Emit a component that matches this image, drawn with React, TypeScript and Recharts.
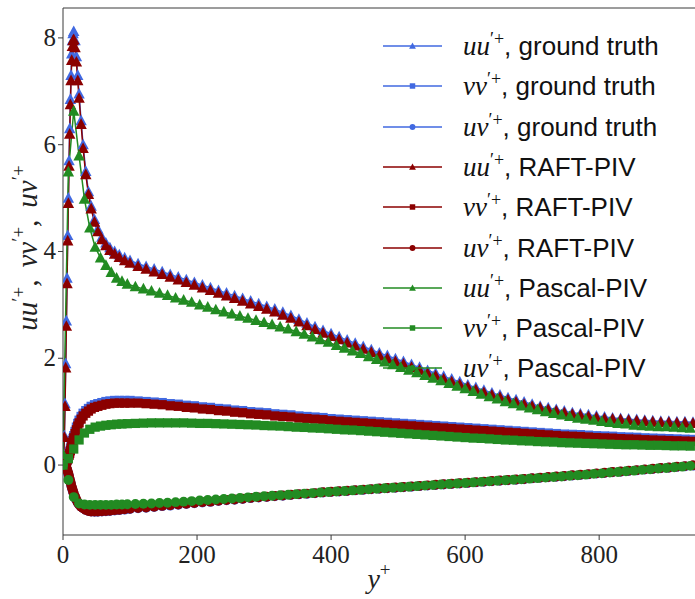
import { LineChart, Line, XAxis, YAxis, Legend, ReferenceLine } from "recharts";

// y+ grid of the ground truth and RAFT-PIV profiles
const yPlusRef = [
  0, 1, 2, 3, 4, 5, 6, 7, 8, 9,
  10, 11, 12, 13, 14, 15, 16, 18, 20, 22,
  24, 27, 30, 34, 38, 42, 47, 52, 58, 64,
  70, 77, 84, 92, 100,
  112, 124, 136, 148, 160, 172, 184, 196, 208, 220,
  232, 244, 256, 268, 280, 292, 304, 316, 328, 340,
  352, 364, 376, 388, 400, 412, 424, 436, 448, 460,
  472, 484, 496, 508, 520, 532, 544, 556, 568, 580,
  592, 604, 616, 628, 640, 652, 664, 676, 688, 700,
  712, 724, 736, 748, 760, 772, 784, 796, 808, 820,
  832, 844, 856, 868, 880, 892, 904, 916, 928, 940,
];

const uuTruth = [
  0, 0.15, 0.55, 1.15, 1.9, 2.7, 3.5, 4.3, 5.0, 5.7,
  6.3, 6.85, 7.3, 7.7, 7.95, 8.08, 8.12, 7.95, 7.65, 7.3,
  6.95, 6.45, 6.0, 5.5, 5.12, 4.85, 4.6, 4.42, 4.27, 4.16,
  4.07, 4.0, 3.94, 3.88, 3.83,
  3.77, 3.72, 3.67, 3.62, 3.57, 3.52, 3.47, 3.42, 3.37, 3.32,
  3.27, 3.22, 3.17, 3.12, 3.07, 3.02, 2.97, 2.92, 2.86, 2.8,
  2.73, 2.66, 2.59, 2.52, 2.46, 2.4, 2.34, 2.28, 2.22, 2.16,
  2.1, 2.05, 1.99, 1.94, 1.88, 1.83, 1.77, 1.72, 1.66, 1.61,
  1.56, 1.5, 1.45, 1.4, 1.35, 1.31, 1.26, 1.22, 1.18, 1.14,
  1.1, 1.07, 1.04, 1.01, 0.98, 0.96, 0.94, 0.92, 0.9, 0.88,
  0.87, 0.86, 0.85, 0.84, 0.83, 0.82, 0.82, 0.81, 0.81, 0.8,
];

const vvTruth = [
  0, 0, 0.01, 0.02, 0.04, 0.06, 0.09, 0.12, 0.16, 0.2,
  0.25, 0.3, 0.35, 0.4, 0.45, 0.5, 0.55, 0.63, 0.71, 0.78,
  0.84, 0.91, 0.97, 1.02, 1.06, 1.1, 1.13, 1.15, 1.17, 1.19,
  1.2, 1.21, 1.21, 1.21, 1.21,
  1.2, 1.19, 1.18, 1.17, 1.15, 1.14, 1.12, 1.11, 1.09, 1.08,
  1.06, 1.05, 1.03, 1.02, 1.0, 0.99, 0.98, 0.96, 0.95, 0.94,
  0.92, 0.91, 0.9, 0.89, 0.87, 0.86, 0.85, 0.84, 0.83, 0.82,
  0.81, 0.8, 0.79, 0.78, 0.77, 0.76, 0.75, 0.74, 0.73, 0.72,
  0.71, 0.7, 0.69, 0.68, 0.67, 0.66, 0.65, 0.64, 0.63, 0.62,
  0.61, 0.6, 0.59, 0.58, 0.575, 0.57, 0.56, 0.55, 0.545, 0.54,
  0.53, 0.525, 0.52, 0.51, 0.505, 0.5, 0.495, 0.49, 0.485, 0.48,
];

const uvTruth = [
  0, 0, -0.01, -0.02, -0.04, -0.06, -0.09, -0.13, -0.17, -0.22,
  -0.27, -0.32, -0.37, -0.42, -0.46, -0.5, -0.54, -0.6, -0.66, -0.7,
  -0.74, -0.78, -0.81, -0.84, -0.86, -0.87, -0.875, -0.875, -0.87, -0.865,
  -0.86, -0.85, -0.845, -0.835, -0.825,
  -0.81, -0.8, -0.785, -0.77, -0.76, -0.745, -0.73, -0.715, -0.7, -0.69,
  -0.675, -0.66, -0.65, -0.635, -0.62, -0.61, -0.6, -0.585, -0.575, -0.56,
  -0.55, -0.54, -0.53, -0.515, -0.505, -0.495, -0.485, -0.475, -0.465, -0.455,
  -0.445, -0.435, -0.425, -0.415, -0.405, -0.395, -0.385, -0.375, -0.365, -0.355,
  -0.345, -0.335, -0.325, -0.315, -0.305, -0.295, -0.285, -0.275, -0.265, -0.25,
  -0.24, -0.23, -0.22, -0.21, -0.195, -0.185, -0.175, -0.16, -0.15, -0.135,
  -0.125, -0.11, -0.1, -0.085, -0.075, -0.06, -0.05, -0.035, -0.025, -0.01,
];

const uuRaft = [
  0, 0.14, 0.52, 1.1, 1.82, 2.6, 3.4, 4.2, 4.9, 5.6,
  6.2, 6.75, 7.2, 7.58, 7.84, 7.95, 7.97, 7.82, 7.55, 7.2,
  6.87, 6.38, 5.93, 5.44, 5.07, 4.8, 4.55, 4.37, 4.22, 4.11,
  4.02, 3.95, 3.89, 3.83, 3.78,
  3.72, 3.67, 3.62, 3.57, 3.52, 3.47, 3.42, 3.37, 3.32, 3.27,
  3.22, 3.17, 3.12, 3.07, 3.02, 2.97, 2.92, 2.87, 2.81, 2.75,
  2.68, 2.61, 2.54, 2.47, 2.41, 2.35, 2.29, 2.23, 2.17, 2.11,
  2.05, 2.0, 1.94, 1.89, 1.83, 1.78, 1.72, 1.67, 1.61, 1.56,
  1.51, 1.46, 1.41, 1.36, 1.31, 1.27, 1.22, 1.18, 1.14, 1.1,
  1.07, 1.04, 1.01, 0.98, 0.95, 0.93, 0.91, 0.89, 0.87, 0.86,
  0.85, 0.84, 0.83, 0.82, 0.81, 0.8, 0.8, 0.79, 0.79, 0.78,
];

const vvRaft = [
  0, 0, 0.01, 0.02, 0.03, 0.05, 0.08, 0.11, 0.14, 0.18,
  0.22, 0.27, 0.32, 0.37, 0.42, 0.46, 0.51, 0.59, 0.66, 0.73,
  0.79, 0.86, 0.92, 0.97, 1.01, 1.05, 1.08, 1.1, 1.12, 1.14,
  1.15, 1.16, 1.16, 1.16, 1.16,
  1.16, 1.15, 1.14, 1.13, 1.11, 1.1, 1.08, 1.07, 1.05, 1.04,
  1.02, 1.01, 0.99, 0.98, 0.96, 0.95, 0.94, 0.92, 0.91, 0.9,
  0.88, 0.87, 0.86, 0.85, 0.83, 0.82, 0.81, 0.8, 0.79, 0.78,
  0.77, 0.76, 0.75, 0.745, 0.735, 0.725, 0.715, 0.705, 0.695, 0.685,
  0.675, 0.665, 0.655, 0.645, 0.635, 0.625, 0.615, 0.605, 0.595, 0.585,
  0.575, 0.565, 0.555, 0.545, 0.54, 0.535, 0.525, 0.515, 0.51, 0.505,
  0.495, 0.49, 0.485, 0.475, 0.47, 0.465, 0.46, 0.455, 0.45, 0.445,
];

const uvRaft = [
  0, 0, -0.01, -0.02, -0.03, -0.05, -0.08, -0.12, -0.16, -0.21,
  -0.26, -0.31, -0.36, -0.41, -0.45, -0.49, -0.53, -0.59, -0.65, -0.7,
  -0.74, -0.78, -0.81, -0.84, -0.86, -0.87, -0.87, -0.87, -0.865, -0.86,
  -0.855, -0.845, -0.84, -0.83, -0.82,
  -0.805, -0.795, -0.78, -0.765, -0.755, -0.74, -0.725, -0.71, -0.695, -0.685,
  -0.67, -0.655, -0.645, -0.63, -0.615, -0.605, -0.595, -0.58, -0.57, -0.555,
  -0.545, -0.535, -0.525, -0.51, -0.5, -0.49, -0.48, -0.47, -0.46, -0.45,
  -0.44, -0.43, -0.42, -0.41, -0.4, -0.39, -0.38, -0.37, -0.36, -0.35,
  -0.34, -0.33, -0.32, -0.31, -0.3, -0.29, -0.28, -0.27, -0.26, -0.245,
  -0.235, -0.225, -0.215, -0.205, -0.19, -0.18, -0.17, -0.155, -0.145, -0.13,
  -0.12, -0.105, -0.095, -0.08, -0.07, -0.055, -0.045, -0.03, -0.02, -0.005,
];

// Pascal-PIV sits on a coarser, uniform grid
const yPlusPascal = [
  0, 8, 16, 24, 32, 40, 48, 56, 64, 72,
  80, 88, 96,
  108, 120, 132, 144, 156, 168, 180, 192, 204, 216,
  228, 240, 252, 264, 276, 288, 300, 312, 324, 336,
  348, 360, 372, 384, 396, 408, 420, 432, 444, 456,
  468, 480, 492, 504, 516, 528, 540, 552, 564, 576,
  588, 600, 612, 624, 636, 648, 660, 672, 684, 696,
  708, 720, 732, 744, 756, 768, 780, 792, 804, 816,
  828, 840, 852, 864, 876, 888, 900, 912, 924, 936,
];

const uuPascal = [
  0.2, 5.49, 6.63, 5.79, 4.98, 4.44, 4.08, 3.88, 3.74, 3.61,
  3.5, 3.44, 3.39,
  3.34, 3.3, 3.26, 3.22, 3.18, 3.13, 3.09, 3.05, 3.0, 2.96,
  2.91, 2.87, 2.83, 2.79, 2.75, 2.71, 2.67, 2.63, 2.59, 2.55,
  2.5, 2.45, 2.4, 2.35, 2.3, 2.24, 2.19, 2.14, 2.09, 2.03,
  1.98, 1.93, 1.88, 1.83, 1.78, 1.73, 1.68, 1.63, 1.58, 1.53,
  1.48, 1.43, 1.38, 1.33, 1.28, 1.24, 1.19, 1.15, 1.11, 1.07,
  1.04, 1.0, 0.97, 0.94, 0.91, 0.88, 0.86, 0.84, 0.82, 0.8,
  0.78, 0.77, 0.75, 0.74, 0.73, 0.72, 0.72, 0.71, 0.7, 0.69,
];

const vvPascal = [
  0, 0.12, 0.3, 0.47, 0.6, 0.67, 0.71, 0.73, 0.745, 0.755,
  0.765, 0.77, 0.775,
  0.78, 0.785, 0.79, 0.79, 0.79, 0.79, 0.79, 0.785, 0.78, 0.78,
  0.775, 0.77, 0.765, 0.76, 0.755, 0.75, 0.74, 0.735, 0.73, 0.72,
  0.71, 0.705, 0.695, 0.69, 0.68, 0.67, 0.66, 0.655, 0.645, 0.635,
  0.625, 0.615, 0.605, 0.595, 0.585, 0.575, 0.565, 0.555, 0.545, 0.535,
  0.525, 0.515, 0.505, 0.5, 0.49, 0.48, 0.47, 0.465, 0.455, 0.45,
  0.44, 0.435, 0.43, 0.42, 0.415, 0.41, 0.405, 0.4, 0.395, 0.39,
  0.385, 0.38, 0.38, 0.375, 0.37, 0.37, 0.365, 0.36, 0.36, 0.355,
];

const uvPascal = [
  0, -0.28, -0.6, -0.72, -0.74, -0.745, -0.745, -0.745, -0.745, -0.745,
  -0.74, -0.74, -0.735,
  -0.73, -0.725, -0.72, -0.71, -0.705, -0.695, -0.685, -0.675, -0.665, -0.655,
  -0.645, -0.635, -0.625, -0.615, -0.605, -0.595, -0.585, -0.575, -0.565, -0.555,
  -0.545, -0.535, -0.525, -0.515, -0.505, -0.495, -0.485, -0.475, -0.465, -0.455,
  -0.445, -0.435, -0.425, -0.415, -0.405, -0.395, -0.385, -0.375, -0.365, -0.355,
  -0.345, -0.335, -0.325, -0.315, -0.305, -0.295, -0.285, -0.275, -0.265, -0.255,
  -0.245, -0.235, -0.225, -0.213, -0.2, -0.19, -0.18, -0.165, -0.155, -0.14,
  -0.13, -0.115, -0.105, -0.09, -0.08, -0.065, -0.055, -0.04, -0.03, -0.015,
];

const xTicks = [0, 200, 400, 600, 800];
const yTicks = [0, 2, 4, 6, 8];
const X_MAX = 943;
const Y_MIN = -1.31;
const Y_MAX = 8.56;

const BLUE = "#4169e1";
const RED = "#8b0000";
const GREEN = "#228b22";
const AXIS = "#3a3a3a";
const SERIF = "'Liberation Serif', 'DejaVu Serif', serif";
const SANS = "'Liberation Sans', 'DejaVu Sans', sans-serif";
const MARKER = 11;
const ROW = 40.3;

type Shape = "triangle" | "square" | "circle";

interface SeriesDef {
  id: string;
  xs: number[];
  ys: number[];
  color: string;
  shape: Shape;
  sym: string;
  source: string;
}

const series: SeriesDef[] = [
  { id: "uuTruth", xs: yPlusRef, ys: uuTruth, color: BLUE, shape: "triangle", sym: "uu", source: "ground truth" },
  { id: "vvTruth", xs: yPlusRef, ys: vvTruth, color: BLUE, shape: "square", sym: "vv", source: "ground truth" },
  { id: "uvTruth", xs: yPlusRef, ys: uvTruth, color: BLUE, shape: "circle", sym: "uv", source: "ground truth" },
  { id: "uuRaft", xs: yPlusRef, ys: uuRaft, color: RED, shape: "triangle", sym: "uu", source: "RAFT-PIV" },
  { id: "vvRaft", xs: yPlusRef, ys: vvRaft, color: RED, shape: "square", sym: "vv", source: "RAFT-PIV" },
  { id: "uvRaft", xs: yPlusRef, ys: uvRaft, color: RED, shape: "circle", sym: "uv", source: "RAFT-PIV" },
  { id: "uuPascal", xs: yPlusPascal, ys: uuPascal, color: GREEN, shape: "triangle", sym: "uu", source: "Pascal-PIV" },
  { id: "vvPascal", xs: yPlusPascal, ys: vvPascal, color: GREEN, shape: "square", sym: "vv", source: "Pascal-PIV" },
  { id: "uvPascal", xs: yPlusPascal, ys: uvPascal, color: GREEN, shape: "circle", sym: "uv", source: "Pascal-PIV" },
];

function toPoints(xs: number[], ys: number[]) {
  return xs.map((x, i) => ({ x, y: ys[i] }));
}

function markerShape(shape: Shape, cx: number, cy: number, s: number, color: string, key?: string) {
  if (shape === "triangle") {
    const pts = `${cx},${cy - s * 0.55} ${cx - s * 0.52},${cy + s * 0.42} ${cx + s * 0.52},${cy + s * 0.42}`;
    return <polygon key={key} points={pts} fill={color} />;
  }
  if (shape === "square") {
    const h = s * 0.42;
    return <rect key={key} x={cx - h} y={cy - h} width={h * 2} height={h * 2} fill={color} />;
  }
  return <circle key={key} cx={cx} cy={cy} r={s * 0.45} fill={color} />;
}

const makeDot = (shape: Shape, color: string) => (props: any) => {
  const { cx, cy, index } = props;
  const key = `d-${index}`;
  if (cx == null || cy == null || isNaN(cx) || isNaN(cy)) return <g key={key} />;
  return markerShape(shape, cx, cy, MARKER, color, key);
};

const XTick = (props: any) => {
  const { x, y, payload } = props;
  return (
    <text x={x} y={y + 21} textAnchor="middle" fontFamily={SERIF} fontSize={25} fill="#222">
      {payload.value}
    </text>
  );
};

const YTick = (props: any) => {
  const { x, y, payload } = props;
  return (
    <text x={x} y={y + 8} textAnchor="end" fontFamily={SERIF} fontSize={25} fill="#222">
      {payload.value}
    </text>
  );
};

const XTitle = (props: any) => {
  const vb = props.viewBox;
  const cx = vb.x + vb.width / 2;
  return (
    <text x={cx} y={vb.y + 53} textAnchor="middle" fontFamily={SERIF} fontSize={28} fill="#222">
      <tspan fontStyle="italic">y</tspan>
      <tspan dy={-12} fontSize={19}>+</tspan>
    </text>
  );
};

const YTitle = (props: any) => {
  const vb = props.viewBox;
  const x = 37;
  const y = vb.y + 240;
  return (
    <text
      x={x}
      y={y}
      transform={`rotate(-90 ${x} ${y})`}
      textAnchor="middle"
      fontFamily={SERIF}
      fontSize={29}
      fill="#222"
    >
      <tspan fontStyle="italic">uu</tspan>
      <tspan dy={-12} fontSize={19}>′+</tspan>
      <tspan dy={12}>,</tspan>
      <tspan dx={12} fontStyle="italic">vv</tspan>
      <tspan dy={-12} fontSize={19}>′+</tspan>
      <tspan dy={12}>,</tspan>
      <tspan dx={12} fontStyle="italic">uv</tspan>
      <tspan dy={-12} fontSize={19}>′+</tspan>
    </text>
  );
};

const LegendBox = () => (
  <div style={{ position: "relative", width: 312, height: ROW * series.length }}>
    {series.map((s, i) => (
      <div key={s.id} style={{ position: "absolute", left: 0, top: i * ROW, width: 312, height: ROW }}>
        <svg width={59} height={16} style={{ position: "absolute", left: 0, top: 12 }}>
          <line x1={0} x2={59} y1={8} y2={8} stroke={s.color} strokeWidth={1.5} />
          {markerShape(s.shape, 29.5, 8, 6.5, s.color)}
        </svg>
        <span
          style={{
            position: "absolute",
            left: 80,
            top: 5,
            fontSize: 26,
            lineHeight: "30px",
            color: "#111",
            whiteSpace: "nowrap",
          }}
        >
          <span style={{ fontFamily: SERIF, fontStyle: "italic", fontSize: 27 }}>{s.sym}</span>
          <span style={{ fontFamily: SERIF, fontSize: 18, position: "relative", top: -10 }}>′+</span>
          <span style={{ fontFamily: SANS }}>, {s.source}</span>
        </span>
      </div>
    ))}
  </div>
);

export default function App() {
  return (
    <div
      style={{
        position: "absolute",
        left: 0,
        top: 0,
        width: 695,
        height: 599,
        background: "#fff",
        overflow: "hidden",
      }}
    >
      <LineChart width={695} height={599} margin={{ top: 8, right: 0, bottom: 0, left: 0 }}>
        <XAxis
          type="number"
          dataKey="x"
          domain={[0, X_MAX]}
          ticks={xTicks}
          allowDataOverflow
          height={64}
          stroke={AXIS}
          tickSize={5}
          tick={<XTick />}
          label={{ content: <XTitle /> }}
        />
        <YAxis
          type="number"
          dataKey="y"
          domain={[Y_MIN, Y_MAX]}
          ticks={yTicks}
          allowDataOverflow
          width={63}
          stroke={AXIS}
          tickSize={5}
          tick={<YTick />}
          label={{ content: <YTitle /> }}
        />
        <ReferenceLine y={Y_MAX} stroke={AXIS} strokeWidth={1} />
        {series.map((s) => (
          <Line
            key={s.id}
            data={toPoints(s.xs, s.ys)}
            dataKey="y"
            type="linear"
            stroke={s.color}
            strokeWidth={1.5}
            dot={makeDot(s.shape, s.color)}
            activeDot={false}
            isAnimationActive={false}
          />
        ))}
        <Legend
          layout="vertical"
          align="center"
          verticalAlign="middle"
          wrapperStyle={{ top: 26, left: 383, width: 312 }}
          content={() => <LegendBox />}
        />
      </LineChart>
    </div>
  );
}
